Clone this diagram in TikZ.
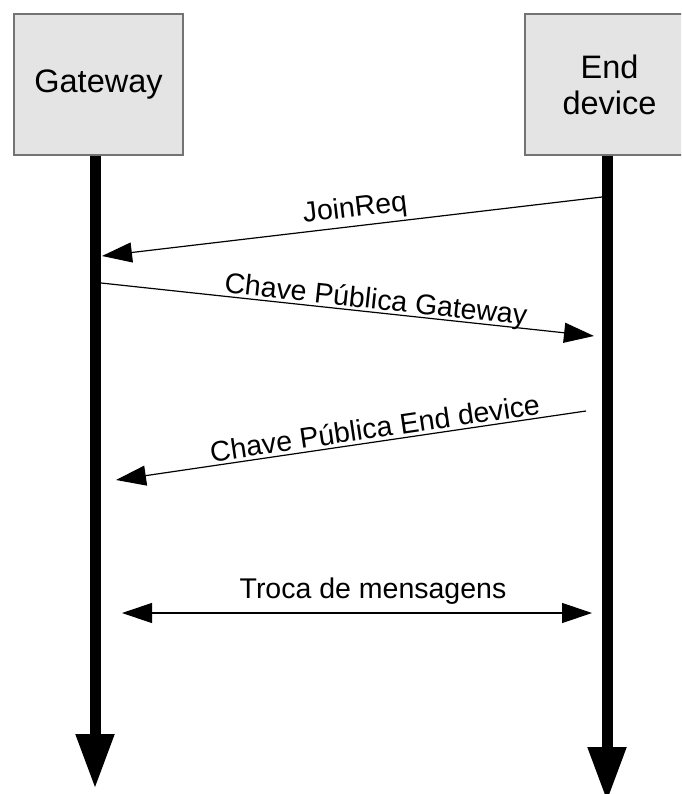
\documentclass[tikz,border=0pt]{standalone}
\usepackage{fontspec}
\setmainfont{Liberation Sans}
\usetikzlibrary{arrows.meta}
\definecolor{boxfill}{RGB}{228,228,228}
\definecolor{boxline}{RGB}{115,115,115}

\begin{document}
\begin{tikzpicture}[x=1pt,y=-1pt,
  actor/.style={draw=boxline, line width=1.2pt, fill=boxfill, minimum width=169pt,
    minimum height=141pt, inner sep=0pt, align=center, font=\fontsize{32.5}{36}\selectfont},
  lifeline/.style={line width=11pt, -{Triangle[length=55pt,width=36pt]}},
  msg/.style={line width=1.2pt, -{Triangle[length=30pt,width=20pt]}},
  msglabel/.style={font=\fontsize{28.5}{32}\selectfont, sloped, inner sep=0pt}]
\clip (0,0) rectangle (681,794);
% participants
\node[actor] (gateway) at (98.5,84.5) {Gateway};
\node[actor] (enddev) at (609.5,84.5) {End\\device};
% lifelines
\coordinate (gwend) at (95,789);
\coordinate (edend) at (607,802);
\draw[lifeline] (gateway.south -| gwend) -- (gwend);
\draw[lifeline] (enddev.south -| edend) -- (edend);
% messages
\coordinate (jr1) at (602,197);
\coordinate (jr2) at (102,256);
\coordinate (pg1) at (101,283);
\coordinate (pg2) at (594,336);
\coordinate (pe1) at (586,411);
\coordinate (pe2) at (116,480);
\coordinate (tm1) at (122,613);
\coordinate (tm2) at (592,613);
\draw[msg] (jr1) -- node[msglabel, pos=0.49, above=3pt] {JoinReq} (jr2);
\draw[msg] (pg1) -- node[msglabel, pos=0.555, above=-3pt] {Chave Pública Gateway} (pg2);
\draw[msg] (pe1) -- node[msglabel, pos=0.445, above=3pt] {Chave Pública End device} (pe2);
\draw[msg, {Triangle[length=30pt,width=20pt]}-{Triangle[length=30pt,width=20pt]}] (tm1) -- node[msglabel, pos=0.534, above=8pt] {Troca de mensagens} (tm2);
\end{tikzpicture}
\end{document}
